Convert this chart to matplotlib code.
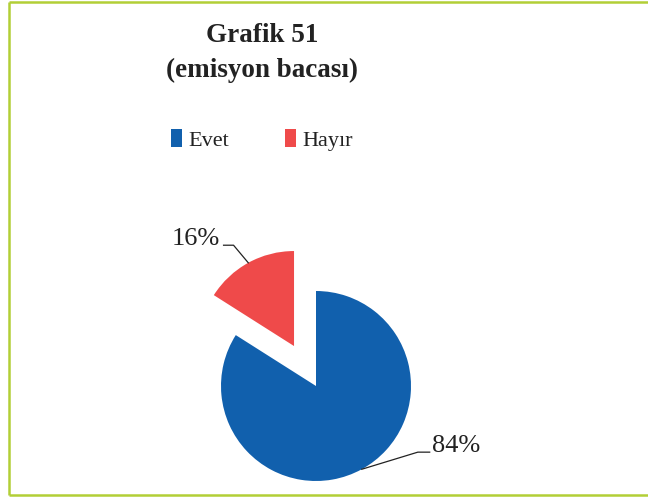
import numpy as np
import matplotlib
matplotlib.use("Agg")
import matplotlib.pyplot as plt
from matplotlib.lines import Line2D

categories = ["Evet", "Hayır"]
values = [84, 16]
colors = ["#1160AD", "#EF4A4A"]
explode_amounts = [0.0, 0.48]

W, H = 648, 498
fig = plt.figure(figsize=(W / 100, H / 100), dpi=100)
plt.rcParams["font.family"] = ["Liberation Serif", "DejaVu Serif"]

# Frame around the chart area (figure pixel coordinates)
frame_color = "#B2CF36"
for xs, ys in [([8.5, W], [H - 2.5, H - 2.5]),
               ([8.5, 8.5], [H - 2.5, H - 495]),
               ([8.5, W], [H - 495, H - 495])]:
    fig.add_artist(Line2D(np.array(xs) / W, np.array(ys) / H, color=frame_color,
                          lw=1.8, transform=fig.transFigure, solid_capstyle="butt"))

# Axes in units of the pie radius, origin at the pie centre
R = 95.0
cx, cy = 316.0, H - 386.0
ax = fig.add_axes([0, 0, 1, 1])
wedges, _ = ax.pie(values, colors=colors, explode=explode_amounts, startangle=90,
                   counterclock=False, radius=1.0, wedgeprops=dict(linewidth=0))
ax.set_xlim(-cx / R, (W - cx) / R)
ax.set_ylim(-cy / R, (H - cy) / R)
ax.set_aspect("equal", adjustable="box")
ax.axis("off")

# Percentage labels with leader lines from the middle of each wedge's arc
total = float(sum(values))
start = 90.0
for i, (v, e) in enumerate(zip(values, explode_amounts)):
    span = 360.0 * v / total
    mid = np.deg2rad(start - span / 2.0)
    start -= span
    ox, oy = e * np.cos(mid), e * np.sin(mid)
    px, py = ox + np.cos(mid), oy + np.sin(mid)
    txt = f"{v}%"
    if i == 1:
        ex, ey = px - 0.155, py + 0.185
        hx = ex - 0.105
        ax.plot([px, ex, hx], [py, ey, ey], color="#222222", lw=0.9)
        ax.text(hx - 0.04, ey, txt, ha="right", va="baseline", fontsize=19,
                color="#222222")
    else:
        ex, ey = px + 0.59, py + 0.18
        hx = ex + 0.125
        ax.plot([px, ex, hx], [py, ey, ey], color="#222222", lw=0.9)
        ax.text(hx + 0.02, ey, txt, ha="left", va="baseline", fontsize=19,
                color="#222222")

# Title
fig.text(262 / W, 1 - 42 / H, "Grafik 51", ha="center", va="baseline",
         fontsize=19.5, fontweight="bold", color="#222222")
fig.text(262 / W, 1 - 77 / H, "(emisyon bacası)", ha="center", va="baseline",
         fontsize=19.5, fontweight="bold", color="#222222")

# Legend
fig.legend(wedges, categories, loc="center", bbox_to_anchor=(262 / W, 1 - 140 / H),
           ncol=2, frameon=False, fontsize=16, handlelength=0.5, handleheight=0.85,
           handletextpad=0.3, columnspacing=2.5, labelcolor="#222222")

fig.savefig("out.png", dpi=100)
